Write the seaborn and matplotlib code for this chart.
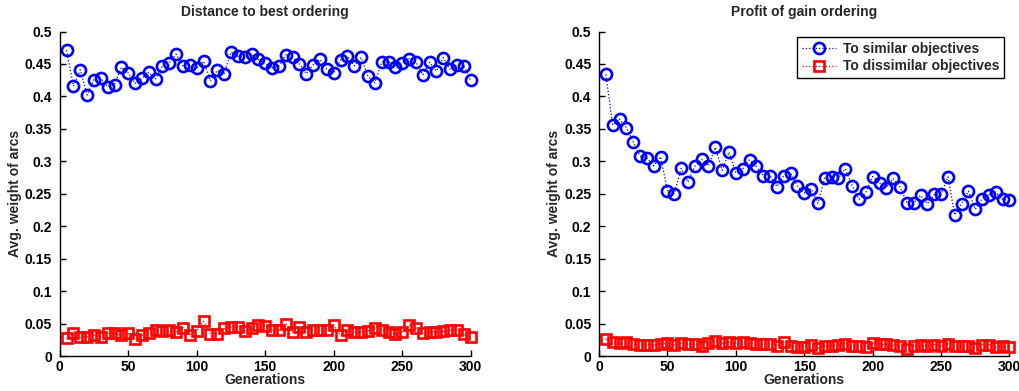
import numpy as np
import pandas as pd
import matplotlib
matplotlib.use("Agg")
import matplotlib.pyplot as plt
import seaborn as sns

generations = list(range(5, 301, 5))

left_similar = [0.471, 0.416, 0.441, 0.402, 0.426, 0.428, 0.415, 0.418, 0.445, 0.436,
                0.420, 0.428, 0.437, 0.427, 0.447, 0.452, 0.465, 0.447, 0.449, 0.443,
                0.454, 0.424, 0.440, 0.435, 0.468, 0.462, 0.460, 0.465, 0.457, 0.451,
                0.444, 0.447, 0.464, 0.460, 0.450, 0.435, 0.4485, 0.457, 0.442, 0.436,
                0.456, 0.462, 0.447, 0.460, 0.431, 0.421, 0.4525, 0.4535, 0.446, 0.451,
                0.458, 0.453, 0.433, 0.4525, 0.439, 0.4597, 0.442, 0.4485, 0.4475, 0.4245]

left_dissimilar = [0.027, 0.0347, 0.0286, 0.0297, 0.032, 0.029, 0.0357, 0.0347, 0.032, 0.0347,
                   0.0266, 0.0317, 0.0357, 0.0408, 0.038, 0.0398, 0.037, 0.0434, 0.0327, 0.039,
                   0.0535, 0.0342, 0.0342, 0.0424, 0.0444, 0.0444, 0.0378, 0.0424, 0.0485, 0.046,
                   0.0398, 0.0398, 0.050, 0.037, 0.045, 0.037, 0.0408, 0.0408, 0.0398, 0.0474,
                   0.0317, 0.0408, 0.037, 0.037, 0.0388, 0.0434, 0.0408, 0.037, 0.0332, 0.037,
                   0.0474, 0.0434, 0.0347, 0.037, 0.037, 0.038, 0.0398, 0.0408, 0.0332, 0.0297]

right_similar = [0.434, 0.356, 0.365, 0.352, 0.330, 0.308, 0.305, 0.293, 0.307, 0.255,
                 0.250, 0.289, 0.268, 0.292, 0.303, 0.293, 0.3215, 0.286, 0.314, 0.282,
                 0.288, 0.302, 0.292, 0.278, 0.278, 0.261, 0.278, 0.282, 0.262, 0.2515,
                 0.2577, 0.2351, 0.2745, 0.276, 0.2745, 0.2883, 0.2627, 0.2413, 0.2525, 0.2765,
                 0.2669, 0.2592, 0.2735, 0.2607, 0.2362, 0.2362, 0.2474, 0.2347, 0.2489, 0.2489,
                 0.276, 0.2172, 0.2347, 0.254, 0.2259, 0.2423, 0.2485, 0.2525, 0.2413, 0.2397]

right_dissimilar = [0.0262, 0.0211, 0.0195, 0.0211, 0.0185, 0.017, 0.017, 0.017, 0.0185, 0.0195,
                    0.017, 0.0195, 0.018, 0.018, 0.0159, 0.0195, 0.0231, 0.0195, 0.0211, 0.0195,
                    0.022, 0.0205, 0.018, 0.018, 0.0185, 0.0159, 0.0211, 0.0159, 0.0144, 0.0144,
                    0.0165, 0.012, 0.0154, 0.0154, 0.0175, 0.019, 0.0154, 0.0154, 0.014, 0.0195,
                    0.018, 0.018, 0.0165, 0.0149, 0.011, 0.0154, 0.0165, 0.0154, 0.0175, 0.0154,
                    0.019, 0.016, 0.0154, 0.0154, 0.0128, 0.0175, 0.0175, 0.0144, 0.0154, 0.0133]

titles = ["Distance to best ordering", "Profit of gain ordering"]
xlabel = "Generations"
ylabel = "Avg. weight of arcs"
series_labels = ["To similar objectives", "To dissimilar objectives"]
xticks = [0, 50, 100, 150, 200, 250, 300]
yticks = [0, 0.05, 0.1, 0.15, 0.2, 0.25, 0.3, 0.35, 0.4, 0.45, 0.5]
ytick_labels = ["0", "0.05", "0.1", "0.15", "0.2", "0.25", "0.3", "0.35", "0.4", "0.45", "0.5"]

sns.set_theme(style="ticks")
plt.rcParams["font.family"] = ["Liberation Sans", "DejaVu Sans"]
plt.rcParams["font.weight"] = "bold"
plt.rcParams["axes.labelweight"] = "bold"
plt.rcParams["axes.titleweight"] = "bold"

fig = plt.figure(figsize=(10.2, 3.91), dpi=100)
W, H = 1020, 391
ax_left = fig.add_axes([59.7 / W, (H - 356) / H, 411 / W, 324.5 / H])
ax_right = fig.add_axes([599 / W, (H - 356) / H, 410.5 / W, 324.5 / H])

panels = [(ax_left, left_similar, left_dissimilar), (ax_right, right_similar, right_dissimilar)]

for i, (ax, sim, dis) in enumerate(panels):
    df = pd.DataFrame({"gen": generations, "sim": sim, "dis": dis})
    sns.lineplot(data=df, x="gen", y="sim", ax=ax, color="#0000ff", linestyle=":",
                 linewidth=0.9, marker="o", markersize=8, markerfacecolor="none",
                 markeredgecolor="#0000ff", markeredgewidth=1.9, label=series_labels[0],
                 clip_on=False)
    sns.lineplot(data=df, x="gen", y="dis", ax=ax, color="#ff0000", linestyle=":",
                 linewidth=0.9, marker="s", markersize=7.3, markerfacecolor="none",
                 markeredgecolor="#ff0000", markeredgewidth=1.9, label=series_labels[1],
                 clip_on=False)
    ax.set_xlim(0, 300)
    ax.set_ylim(0, 0.5)
    ax.set_xticks(xticks)
    ax.set_xticklabels([str(t) for t in xticks], fontsize=10, fontweight="bold")
    ax.set_yticks(yticks)
    ax.set_yticklabels(ytick_labels, fontsize=10, fontweight="bold")
    ax.tick_params(direction="in", length=4, width=1, colors="black")
    ax.tick_params(axis="y", pad=5.5)
    ax.tick_params(axis="x", pad=3)
    ax.set_xlabel(xlabel, fontsize=10, fontweight="bold", labelpad=-1)
    ax.set_ylabel(ylabel, fontsize=10, fontweight="bold", labelpad=2)
    ax.set_title(titles[i], fontsize=10, fontweight="bold", pad=11)
    for side in ["top", "right"]:
        ax.spines[side].set_visible(False)
    for side in ["left", "bottom"]:
        ax.spines[side].set_color("black")
        ax.spines[side].set_linewidth(1.0)
    if i == 0:
        ax.get_legend().remove()
    else:
        leg = ax.legend(loc="upper right", fontsize=10, frameon=True, fancybox=False,
                        borderpad=0.35, handlelength=2.4, handletextpad=0.5,
                        labelspacing=0.25, borderaxespad=0.4)
        leg.get_frame().set_edgecolor("black")
        leg.get_frame().set_linewidth(1.0)
        leg.get_frame().set_alpha(1.0)
        for t in leg.get_texts():
            t.set_fontweight("bold")

fig.savefig("out.png", dpi=100)
